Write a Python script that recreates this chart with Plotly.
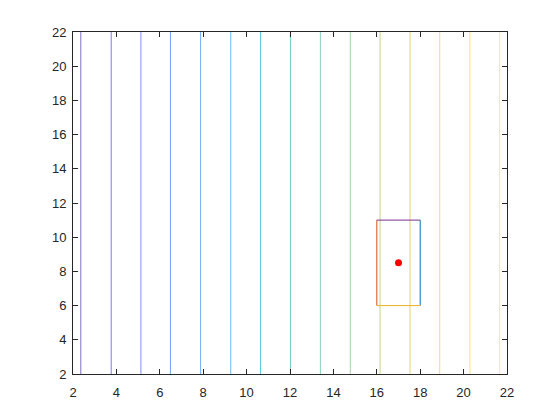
import plotly.graph_objects as go

# contour levels (vertical lines) and the y extent of the data
levels = [2.36, 3.76, 5.13, 6.49, 7.88, 9.27, 10.64, 12.02, 13.40, 14.78, 16.15, 17.53, 18.90, 20.29, 21.66]
y_span = [2, 22]

# box and point drawn on top
box_x = [16, 18]
box_y = [6, 11]
point_x = [17]
point_y = [8.5]

x_ticks = [2, 4, 6, 8, 10, 12, 14, 16, 18, 20, 22]
y_ticks = [2, 4, 6, 8, 10, 12, 14, 16, 18, 20, 22]

# parula colours for each level
parula = ['#402aab', '#4639de', '#4758f7', '#3e6fff', '#2d87f3', '#239ee5', '#18b1d6',
          '#2ab8b0', '#4dc096', '#80c27a', '#b0c050', '#dcbd29', '#fec337', '#f7dc2a', '#f7f51b']

fig = go.Figure()

for lvl, col in zip(levels, parula):
    fig.add_trace(go.Scatter(x=[lvl, lvl], y=y_span, mode='lines',
                             line=dict(color=col, width=1), opacity=0.68,
                             hoverinfo='skip'))

# box edges, drawn one by one in the default colour order
edges = [
    ([box_x[1], box_x[1]], [box_y[0], box_y[1]], '#0072BD'),
    ([box_x[0], box_x[0]], [box_y[0], box_y[1]], '#D95319'),
    ([box_x[0], box_x[1]], [box_y[0], box_y[0]], '#EDB120'),
    ([box_x[0], box_x[1]], [box_y[1], box_y[1]], '#7E2F8E'),
]
for ex, ey, col in edges:
    fig.add_trace(go.Scatter(x=ex, y=ey, mode='lines', line=dict(color=col, width=1)))

fig.add_trace(go.Scatter(x=point_x, y=point_y, mode='markers',
                         marker=dict(color='#ff0000', size=7)))

axis_style = dict(showgrid=False, zeroline=False, showline=True, linecolor='#262626',
                  linewidth=1, mirror='ticks', ticks='inside', ticklen=5,
                  tickcolor='#262626', tickfont=dict(size=13, color='#262626'))

fig.update_xaxes(range=[2, 22], tickvals=x_ticks, ticklabelstandoff=6, **axis_style)
fig.update_yaxes(range=[2, 22], tickvals=y_ticks, ticklabelstandoff=3, **axis_style)

# the page puts the figure 8px in from the top-left corner
fig.update_layout(width=560, height=420, showlegend=False,
                  margin=dict(l=65, r=61, t=24, b=54),
                  plot_bgcolor='white', paper_bgcolor='white',
                  font=dict(family='Liberation Sans, Arial, sans-serif'))

fig.write_html("out.html")
